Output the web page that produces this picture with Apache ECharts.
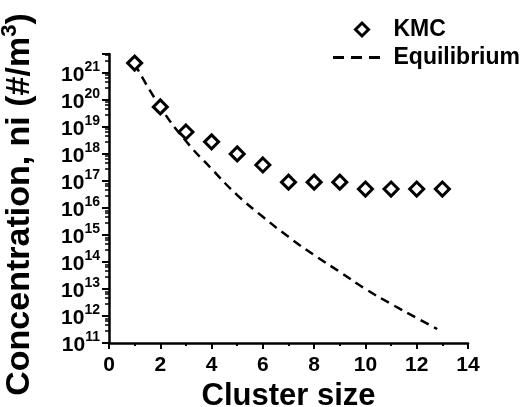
<!DOCTYPE html>
<html>
<head>
<meta charset="utf-8">
<script src="https://cdn.jsdelivr.net/npm/echarts@6/dist/echarts.min.js"></script>
<style>
html,body{margin:0;padding:0;background:#fff;}
#chart{width:525px;height:407px;}
</style>
</head>
<body>
<div id="chart"></div>
<script>
// Cluster sizes
const kmcSizes = [1, 2, 3, 4, 5, 6, 7, 8, 9, 10, 11, 12, 13];
// KMC concentrations (#/m^3)
const kmcValues = [2.3e21, 5.5e19, 6.5e18, 2.8e18, 1.0e18, 3.9e17, 9e16, 9e16, 9e16, 5e16, 5e16, 5e16, 5e16];
// Equilibrium curve
const eqSizes = [1, 2, 3, 4, 5, 6, 7, 8, 9, 10, 11, 12, 12.8];
const eqValues = [2.2e21, 5.5e19, 3.0e18, 2.8e17, 3.0e16, 4.7e15, 8.5e14, 1.8e14, 4.3e13, 1.0e13, 2.8e12, 8.5e11, 3.3e11];
// Axis settings
const xTicks = [0, 2, 4, 6, 8, 10, 12, 14];
const yMin = 1e11, yMax = 5e21;

const FONT = '"Liberation Sans", Arial, sans-serif';
const legendText = {fontFamily: FONT, fontWeight: 'bold', fontSize: 23, color: '#000'};
const chart = echarts.init(document.getElementById('chart'), null, {renderer: 'canvas'});

chart.setOption({
  backgroundColor: '#fff',
  animation: false,
  grid: {left: 109, right: 57, top: 54, bottom: 64, containLabel: false, outerBoundsMode: 'none'},
  legend: [
    {
      left: 349,
      top: 13,
      itemWidth: 13,
      itemHeight: 13,
      textStyle: Object.assign({padding: [0, 0, 0, 20]}, legendText),
      data: [{name: 'KMC', icon: 'diamond', itemStyle: {color: '#fff', borderColor: '#000', borderWidth: 3, opacity: 1}}]
    },
    {
      left: 328,
      top: 41,
      itemWidth: 48,
      itemHeight: 3,
      textStyle: Object.assign({padding: [0, 0, 0, 8]}, legendText),
      data: [{name: 'Equilibrium', icon: 'path://M0,0h11v3h-11z M18,0h11v3h-11z M36,0h11v3h-11z', itemStyle: {color: '#000', borderWidth: 0}}]
    }
  ],
  xAxis: {
    type: 'value',
    min: xTicks[0],
    max: xTicks[xTicks.length - 1],
    interval: 2,
    name: 'Cluster size',
    nameLocation: 'middle',
    nameGap: 38,
    nameTextStyle: {fontFamily: FONT, fontWeight: 'bold', fontSize: 31, color: '#000'},
    axisLine: {show: true, lineStyle: {color: '#000', width: 2.5}},
    axisTick: {show: true, inside: false, length: 6, lineStyle: {color: '#000', width: 2}},
    minorTick: {show: true, splitNumber: 2, length: 3, lineStyle: {color: '#000', width: 2}},
    axisLabel: {fontFamily: FONT, fontWeight: 'bold', fontSize: 21, color: '#000', margin: 12, hideOverlap: false},
    splitLine: {show: false}
  },
  yAxis: {
    type: 'log',
    logBase: 10,
    min: yMin,
    max: yMax,
    interval: 1,
    name: '{a|Concentration, ni (#/m}{s|3}{a|)}',
    nameLocation: 'middle',
    nameGap: 72,
    nameRotate: 90,
    nameTextStyle: {
      padding: [0, 12, 0, 0],
      rich: {
        a: {fontFamily: FONT, fontWeight: 'bold', fontSize: 34, color: '#000', lineHeight: 38, verticalAlign: 'bottom'},
        s: {fontFamily: FONT, fontWeight: 'bold', fontSize: 22, color: '#000', lineHeight: 38, verticalAlign: 'top', padding: [0, 0, 12, 0]}
      }
    },
    axisLine: {show: true, lineStyle: {color: '#000', width: 2.5}},
    axisTick: {show: true, inside: false, length: 7, lineStyle: {color: '#000', width: 2}},
    minorTick: {show: true, splitNumber: 5, length: 4, lineStyle: {color: '#000', width: 1.5}},
    axisLabel: {
      showMinLabel: true,
      showMaxLabel: false,
      hideOverlap: false,
      margin: 9,
      formatter: function (v) {
        const e = Math.round(Math.log10(v));
        return '{b|10}{s|' + e + '}';
      },
      rich: {
        b: {fontFamily: FONT, fontWeight: 'bold', fontSize: 21, color: '#000', lineHeight: 26, verticalAlign: 'bottom'},
        s: {fontFamily: FONT, fontWeight: 'bold', fontSize: 14, color: '#000', lineHeight: 26, verticalAlign: 'top'}
      }
    },
    splitLine: {show: false}
  },
  series: [
    {
      name: 'Equilibrium',
      type: 'line',
      data: eqSizes.map((x, i) => [x, eqValues[i]]),
      smooth: true,
      symbol: 'none',
      showSymbol: false,
      lineStyle: {color: '#000', width: 2.5, type: [9, 6]},
      itemStyle: {color: '#000'},
      z: 2
    },
    {
      name: 'KMC',
      type: 'scatter',
      data: kmcSizes.map((x, i) => [x, kmcValues[i]]),
      symbol: 'diamond',
      symbolSize: [14, 14],
      itemStyle: {color: '#fff', borderColor: '#000', borderWidth: 3, opacity: 1},
      z: 3
    }
  ]
});
</script>
</body>
</html>
